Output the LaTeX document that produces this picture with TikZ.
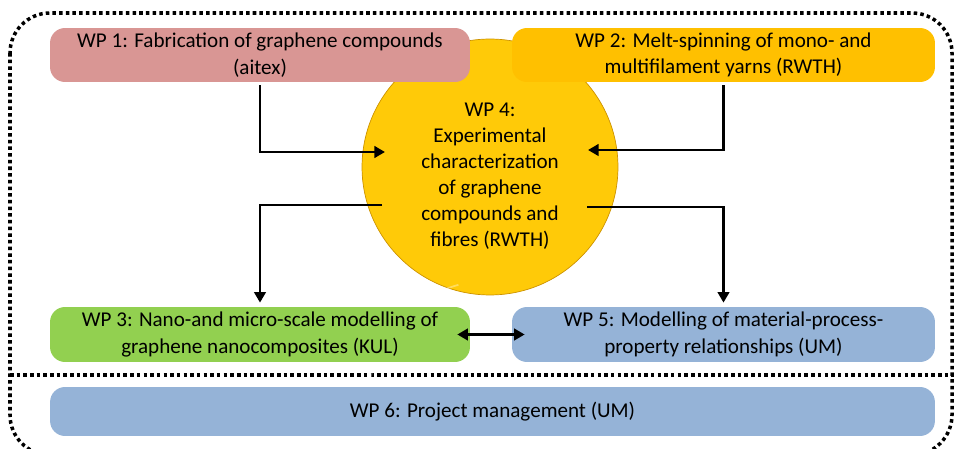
\documentclass[tikz,border=0pt]{standalone}
\usepackage{fontspec}
\setmainfont{Carlito}
\usetikzlibrary{arrows.meta}
\definecolor{WPRose}{HTML}{D99694}
\definecolor{WPAmber}{HTML}{FFC000}
\definecolor{WPGreen}{HTML}{92D050}
\definecolor{WPBlue}{HTML}{95B3D7}
\definecolor{WPGold}{HTML}{FFCA08}
\definecolor{WPRim}{HTML}{EDB200}
\definecolor{WPRimDark}{HTML}{CC9200}
\pgfdeclareradialshading{wpball}{\pgfpoint{0bp}{0bp}}{color(0bp)=(WPGold); color(41bp)=(WPGold); color(47bp)=(WPRim); color(50bp)=(WPRimDark)}

\tikzset{
  wpbox/.style={rounded corners=0.3cm, minimum width=8.4cm, minimum height=1.08cm,
    inner sep=0pt, align=center, font=\fontsize{12}{15}\selectfont},
  flow/.style={line width=1.6pt, -{Triangle[length=6pt,width=6.5pt]}},
  both/.style={line width=1.6pt, {Triangle[length=6pt,width=6.5pt]}-{Triangle[length=6pt,width=6.5pt]}},
  frame/.style={line width=2pt, dash pattern=on 2pt off 1.8pt},
}

\begin{document}
\begin{tikzpicture}[x=0.02cm,y=-0.02cm]
\path[use as bounding box] (0,0) rectangle (954,449);
% dotted frame and divider
\draw[frame, rounded corners=0.8cm] (10,13) rectangle (952,455);
\draw[frame] (10,375) -- (954,375);
% central work package
\node[circle, minimum size=5.12cm, inner sep=0pt, shading=wpball, draw=WPRimDark, line width=0.4pt] (wp4) at (490,167) {};
\draw[white, opacity=0.35, line width=1pt] (wp4.center) ++(105:122) arc[start angle=105, end angle=200, radius=2.44cm];
\node[align=center, font=\fontsize{12}{14.8}\selectfont] (wp4text) at (490,176)
  {WP 4:\\Experimental\\characterization\\of graphene\\compounds and\\fibres (RWTH)};
% boxes
\node[wpbox, fill=WPRose] (wp1) at (260,55) {WP 1: Fabrication of graphene compounds\\(aitex)};
\node[wpbox, fill=WPAmber, minimum width=8.46cm] (wp2) at (723.5,55) {WP 2: Melt-spinning of mono- and\\multifilament yarns (RWTH)};
\node[wpbox, fill=WPGreen, minimum height=1.1cm] (wp3) at (260,334.5) {WP 3: Nano-and micro-scale modelling of\\graphene nanocomposites (KUL)};
\node[wpbox, fill=WPBlue, minimum width=8.46cm, minimum height=1.1cm] (wp5) at (723.5,334.5) {WP 5: Modelling of material-process-\\property relationships (UM)};
\node[wpbox, fill=WPBlue, minimum width=17.7cm, minimum height=0.98cm] (wp6) at (492.5,411.5) {WP 6: Project management (UM)};
% connectors
\coordinate (in1) at (385,152);
\coordinate (in2) at (588,150);
\coordinate (out3) at (382,205);
\coordinate (out5) at (587,207);
\draw[flow, shorten <=0.06cm] (wp1.south) |- (in1);
\draw[flow, shorten <=0.06cm] (wp2.south) |- (in2);
\draw[flow, shorten >=0.08cm] (out3) -| (wp3.north);
\draw[flow, shorten >=0.08cm] (out5) -| (wp5.north);
\draw[both, shorten <=-0.26cm, shorten >=-0.26cm] (wp3.east) -- (wp5.west);
\end{tikzpicture}
\end{document}
